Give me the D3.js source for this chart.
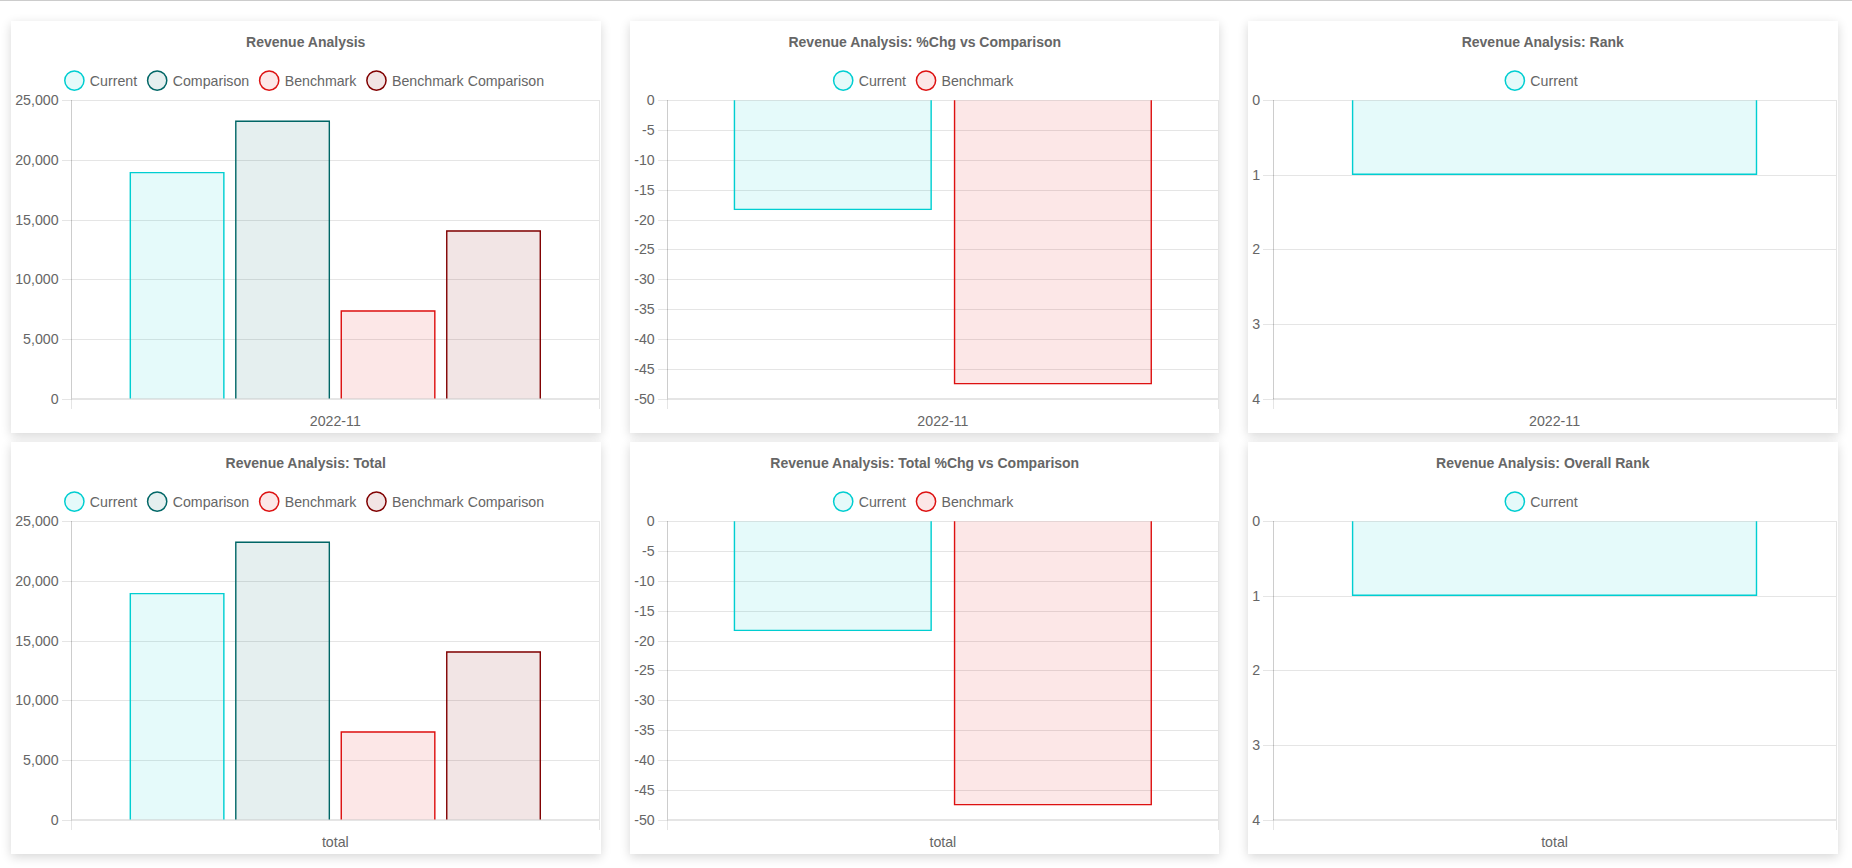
<!DOCTYPE html>
<html>
<head>
<meta charset="utf-8">
<script src="https://cdn.jsdelivr.net/npm/d3@7/dist/d3.min.js"></script>
<style>
  html, body { margin: 0; padding: 0; background: #ffffff; }
  body { width: 1852px; height: 868px; position: relative; overflow: hidden; border-top: 1px solid #cccccc; box-sizing: border-box; }
  .panel { position: absolute; background: #fff; box-shadow: 0 3px 10px rgba(0,0,0,0.16); }
  svg text { font-family: "Liberation Sans", Arial, Helvetica, sans-serif; fill: #666; }
</style>
</head>
<body>
<script>
// ---------------- DATA ----------------
const periodCategories = ["2022-11"];
const totalCategories = ["total"];

const revenueSeries = ["Current", "Comparison", "Benchmark", "Benchmark Comparison"];
const revenueValues = [19000, 23300, 7400, 14100];        // 2022-11
const revenueTotalValues = [19000, 23300, 7400, 14100];   // total

const pctSeries = ["Current", "Benchmark"];
const pctValues = [-18.4, -47.6];        // 2022-11
const pctTotalValues = [-18.4, -47.6];   // total

const rankSeries = ["Current"];
const rankValues = [1];
const overallRankValues = [1];

const revenueTicks = [0, 5000, 10000, 15000, 20000, 25000];
const pctTicks = [0, -5, -10, -15, -20, -25, -30, -35, -40, -45, -50];
const rankTicks = [0, 1, 2, 3, 4];

const seriesColors = {
  "Current": "#00CED1",
  "Comparison": "#006666",
  "Benchmark": "#DD1111",
  "Benchmark Comparison": "#800000"
};

// ---------------- LAYOUT ----------------
const colX = [11, 629.5, 1248];
const rowY = [20.7, 442];
const panelW = 589.5, panelH = 412;

const loc = d3.formatLocale({ decimal: ".", thousands: ",", grouping: [3], currency: ["$", ""], minus: "-" });
const fmtComma = loc.format(",");
const fmtInt = loc.format("d");

const charts = [
  { title: "Revenue Analysis", cats: periodCategories, series: revenueSeries, values: revenueValues,
    domain: [0, 25000], ticks: revenueTicks, fmt: fmtComma, reversed: false, col: 0, row: 0 },
  { title: "Revenue Analysis: %Chg vs Comparison", cats: periodCategories, series: pctSeries, values: pctValues,
    domain: [-50, 0], ticks: pctTicks, fmt: fmtInt, reversed: false, col: 1, row: 0 },
  { title: "Revenue Analysis: Rank", cats: periodCategories, series: rankSeries, values: rankValues,
    domain: [0, 4], ticks: rankTicks, fmt: fmtInt, reversed: true, col: 2, row: 0 },
  { title: "Revenue Analysis: Total", cats: totalCategories, series: revenueSeries, values: revenueTotalValues,
    domain: [0, 25000], ticks: revenueTicks, fmt: fmtComma, reversed: false, col: 0, row: 1 },
  { title: "Revenue Analysis: Total %Chg vs Comparison", cats: totalCategories, series: pctSeries, values: pctTotalValues,
    domain: [-50, 0], ticks: pctTicks, fmt: fmtInt, reversed: false, col: 1, row: 1 },
  { title: "Revenue Analysis: Overall Rank", cats: totalCategories, series: rankSeries, values: overallRankValues,
    domain: [0, 4], ticks: rankTicks, fmt: fmtInt, reversed: true, col: 2, row: 1 }
];

const gridColor = "rgba(0,0,0,0.1)";
const fontSize = 14.2;
const FONT = '"Liberation Sans", Arial, Helvetica, sans-serif';

function measure(svg, txt, weight) {
  const t = svg.append("text").attr("font-size", fontSize).attr("font-weight", weight || "normal").text(txt);
  const w = t.node().getComputedTextLength();
  t.remove();
  return w;
}

function hexAlpha(hex, a) {
  const c = d3.color(hex); c.opacity = a; return c.formatRgb();
}

charts.forEach(ch => {
  const div = d3.select("body").append("div").attr("class", "panel")
    .style("left", colX[ch.col] + "px").style("top", (rowY[ch.row] - 1) + "px")
    .style("width", panelW + "px").style("height", panelH + "px");
  const svg = div.append("svg").attr("width", panelW).attr("height", panelH);

  // Title
  svg.append("text").attr("x", panelW / 2).attr("y", 20.6).attr("dy", "0.35em")
    .attr("text-anchor", "middle").attr("font-size", 14).attr("font-weight", "bold")
    .text(ch.title);

  // Legend
  const items = ch.series.map(s => ({ name: s, w: measure(svg, s) }));
  const boxW = 20, gap = 5.5, pad = 10;
  const totalW = d3.sum(items, d => boxW + gap + d.w) + pad * (items.length - 1);
  let lx = panelW / 2 - 1.5 - totalW / 2;
  const legY = 59.6;
  const leg = svg.append("g");
  items.forEach(it => {
    const col = seriesColors[it.name];
    leg.append("circle").attr("cx", lx + boxW / 2).attr("cy", legY).attr("r", 9.6)
      .attr("fill", hexAlpha(col, 0.1)).attr("stroke", col).attr("stroke-width", 1.5);
    leg.append("text").attr("x", lx + boxW + gap).attr("y", legY).attr("dy", "0.35em")
      .attr("font-size", fontSize).text(it.name);
    lx += boxW + gap + it.w + pad;
  });

  // Plot area
  const maxLabel = d3.max(ch.ticks, t => measure(svg, ch.fmt(t)));
  const plotLeft = 4.2 + maxLabel + 3 + 10;
  const plotRight = panelW - 1.5;
  const plotTop = 79.3, plotBottom = 377.6;

  const y = d3.scaleLinear().domain(ch.domain)
    .range(ch.reversed ? [plotTop, plotBottom] : [plotBottom, plotTop]);
  const x0 = d3.scaleBand().domain(ch.cats).range([plotLeft, plotRight]).paddingInner(0.2).paddingOuter(0.1);
  const x1 = d3.scaleBand().domain(ch.series).range([0, x0.bandwidth()]).paddingInner(0.1).paddingOuter(0.05);

  const g = svg.append("g");

  // horizontal grid lines + tick marks
  const yAxis = d3.axisLeft(y).tickValues(ch.ticks).tickFormat(ch.fmt)
    .tickSize(-(plotRight - plotLeft)).tickPadding(3);
  const ya = g.append("g").attr("transform", `translate(${plotLeft},0)`).call(yAxis);
  ya.select(".domain").remove();
  ya.selectAll(".tick line").attr("x1", -10).attr("stroke", gridColor).attr("shape-rendering", "crispEdges");
  ya.selectAll(".tick text").attr("x", -13).attr("font-size", fontSize)
    .attr("font-family", FONT).attr("fill", "#666");

  // vertical grid lines at category edges
  const edges = [];
  ch.cats.forEach(c => { edges.push(x0(c) - x0.step() * 0.1); });
  edges.push(plotRight);
  g.selectAll(".vgrid").data(edges).join("line")
    .attr("x1", d => d).attr("x2", d => d).attr("y1", plotTop).attr("y2", plotBottom + 10)
    .attr("stroke", gridColor).attr("shape-rendering", "crispEdges");

  // axis borders (overlap grid -> darker)
  g.append("line").attr("x1", plotLeft).attr("x2", plotLeft).attr("y1", plotTop).attr("y2", plotBottom)
    .attr("stroke", gridColor).attr("shape-rendering", "crispEdges");
  g.append("line").attr("x1", plotLeft).attr("x2", plotRight).attr("y1", plotBottom).attr("y2", plotBottom)
    .attr("stroke", gridColor).attr("shape-rendering", "crispEdges");

  // x-axis labels
  const xAxis = d3.axisBottom(x0).tickSize(0).tickPadding(0);
  const xa = g.append("g").attr("transform", `translate(0,${plotBottom})`).call(xAxis);
  xa.select(".domain").remove();
  xa.selectAll(".tick text").attr("y", 400 - plotBottom).attr("dy", "0.35em").attr("font-size", fontSize)
    .attr("font-family", FONT).attr("fill", "#666");

  // bars
  const barData = [];
  ch.cats.forEach(c => {
    ch.series.forEach((s, i) => barData.push({ cat: c, s: s, v: ch.values[i] }));
  });
  const bw = 1.4;
  const bars = g.selectAll(".bar").data(barData).join("g");
  bars.each(function (d) {
    const el = d3.select(this);
    const xl = x0(d.cat) + x1(d.s), xr = xl + x1.bandwidth();
    const yb = y(0), yv = y(d.v);
    const col = seriesColors[d.s];
    el.append("rect").attr("x", xl).attr("width", x1.bandwidth())
      .attr("y", Math.min(yb, yv)).attr("height", Math.abs(yv - yb))
      .attr("fill", hexAlpha(col, 0.1));
    // border skipped at base
    const dir = yv < yb ? 1 : -1;
    const path = d3.path();
    path.moveTo(xl + bw / 2, yb);
    path.lineTo(xl + bw / 2, yv + dir * bw / 2);
    path.lineTo(xr - bw / 2, yv + dir * bw / 2);
    path.lineTo(xr - bw / 2, yb);
    el.append("path").attr("d", path.toString()).attr("fill", "none")
      .attr("stroke", col).attr("stroke-width", bw);
  });
});
</script>
</body>
</html>
